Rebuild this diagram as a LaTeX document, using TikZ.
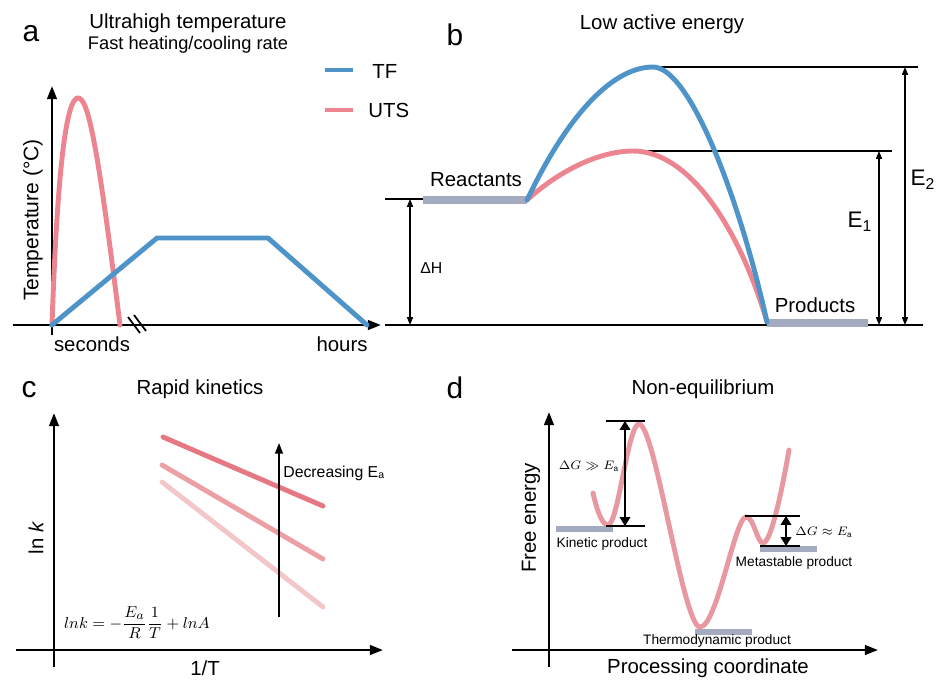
\documentclass[tikz,border=0pt]{standalone}
\usepackage{fontspec}
\setmainfont{Liberation Sans}
\usetikzlibrary{arrows.meta}

\definecolor{tfblue}{RGB}{79,148,201}
\definecolor{utspink}{RGB}{236,133,144}
\definecolor{barcol}{RGB}{164,171,192}
\definecolor{lineA}{RGB}{229,120,130}
\definecolor{lineB}{RGB}{236,160,166}
\definecolor{lineC}{RGB}{243,198,202}
\definecolor{landcol}{RGB}{232,152,160}

\tikzset{
  axisline/.style={line width=1.4pt,-{Triangle[length=7.5pt,width=5.5pt]}},
  dimline/.style={line width=0.6pt,{Triangle[length=4.5pt,width=3.5pt]}-{Triangle[length=4.5pt,width=3.5pt]}},
  bigdim/.style={line width=0.8pt,{Triangle[length=5pt,width=6pt]}-{Triangle[length=5pt,width=6pt]}},
  refline/.style={line width=0.7pt},
  curve/.style={line width=2.8pt,line cap=round},
  levelbar/.style={draw=barcol,line width=5pt},
  smallbar/.style={draw=barcol,line width=3pt},
  letter/.style={inner sep=0,font=\fontsize{17}{19}\selectfont},
  title/.style={inner sep=0,font=\fontsize{11.6}{13}\selectfont},
  lbl/.style={inner sep=0,font=\fontsize{11.6}{13}\selectfont},
  small/.style={inner sep=0,font=\fontsize{7.8}{9}\selectfont},
  gap/.style={inner sep=0,font=\fontsize{6.6}{8}\selectfont},
}

\begin{document}
\begin{tikzpicture}[x=0.02cm,y=-0.02cm]
\useasboundingbox (0,0) rectangle (946,687);

% ---- a: heating profile
\node[letter] (letA) at (31,34) {a};
\node[title] (titA) at (188,23) {Ultrahigh temperature};
\node[inner sep=0,font=\fontsize{10.4}{12}\selectfont] (subA) at (188,45) {Fast heating/cooling rate};
\coordinate (aO) at (52,325);
\draw[axisline] (52,335) -- (52,86);
\draw[axisline] (13,325) -- (381,325);
\draw[line width=1pt] (128,317) -- (140,333) (134,315) -- (146,331);
\draw[curve,utspink] (aO) .. controls (58,150) and (68,98) .. (78,98)
  .. controls (88,98) and (97,140) .. (120,325);
\draw[curve,tfblue,line join=round] (aO) -- (157,238) -- (268,238) -- (367,325);
\draw[curve,tfblue,line cap=butt] (325,70) -- (353,70);
\draw[curve,utspink,line cap=butt] (325,110) -- (353,110);
\node[lbl,anchor=west] (legTF) at (372,71) {TF};
\node[lbl,anchor=west] (legUTS) at (368,110) {UTS};
\node[lbl] (secs) at (92,344) {seconds};
\node[lbl] (hrs) at (342,344) {hours};
\node[inner sep=0,rotate=90,font=\fontsize{12}{14}\selectfont] (tempA) at (33,220) {Temperature (°C)};

% ---- b: energy barrier
\node[letter] (letB) at (455,35) {b};
\node[title] (titB) at (662,24) {Low active energy};
\coordinate (react) at (527,200);
\coordinate (prod) at (767,322);
\draw[refline] (385,325) -- (923,325);
\draw[refline] (385,199) -- (423,199);
\draw[levelbar] (423,200) -- (react);
\draw[levelbar] (767,323) -- (868,323);
\draw[refline] (653,67) -- (918,67);
\draw[refline] (633,151) -- (892,151);
\draw[dimline] (410,199) -- (410,325);
\draw[dimline] (879,151) -- (879,325);
\draw[dimline] (905,67) -- (905,325);
\draw[curve,utspink] (react) .. controls (560,170) and (600,151) .. (633,151)
  .. controls (690,151) and (740,230) .. (prod);
\draw[curve,tfblue] (react) .. controls (570,110) and (615,67) .. (653,67)
  .. controls (690,67) and (740,200) .. (prod);
\node[lbl] (reacL) at (476,180) {Reactants};
\node[lbl] (prodL) at (815,305) {Products};
\node[inner sep=0,anchor=west,font=\fontsize{9}{10}\selectfont] (dH) at (420,268) {ΔH};
\node[inner sep=0,font=\fontsize{12.8}{14}\selectfont] (eOne) at (860,222) {E\textsubscript{1}};
\node[inner sep=0,font=\fontsize{12.8}{14}\selectfont] (eTwo) at (923,180) {E\textsubscript{2}};

% ---- c: Arrhenius plot
\node[letter] (letC) at (29,390) {c};
\node[title] (titC) at (200,389) {Rapid kinetics};
\draw[axisline] (54,667) -- (54,413);
\draw[axisline] (16,650) -- (383,650);
\draw[curve,lineA] (163,437) -- (323,506);
\draw[curve,lineB] (162,465) -- (323,559);
\draw[curve,lineC] (162,482) -- (323,607);
\draw[line width=0.8pt,-{Triangle[length=6pt,width=4.5pt]}] (279,617) -- (279,443);
\node[inner sep=0,anchor=west,font=\fontsize{9}{10}\selectfont] (decE) at (283,473) {Decreasing E\textsubscript{a}};
\node[inner sep=0,font=\fontsize{9.5}{11}\selectfont] (arrh) at (137,623)
  {$lnk=-\displaystyle\frac{E_a}{R}\frac{1}{T}+lnA$};
\node[lbl,rotate=90] (lnk) at (36,538) {ln \textit{k}};
\node[lbl] (invT) at (205,668) {1/T};

% ---- d: free energy landscape
\node[letter] (letD) at (455,388) {d};
\node[title] (titD) at (703,389) {Non-equilibrium};
\draw[axisline] (549,667) -- (549,412);
\draw[axisline] (512,650) -- (878,650);
\node[lbl,rotate=90] (freeE) at (531,518) {Free energy};
\node[lbl] (procC) at (708,668) {Processing coordinate};
\draw[smallbar] (556,529) -- (613,529);
\draw[smallbar] (695,632) -- (752,632);
\draw[smallbar] (760,549) -- (817,549);
\draw[curve,landcol] (593,493) .. controls (598,515) and (603,525) .. (608,525)
  .. controls (618,525) and (628,424) .. (639,424)
  .. controls (655,424) and (683,627) .. (700,627)
  .. controls (717,627) and (735,517) .. (746,517)
  .. controls (754,517) and (757,543) .. (763,543)
  .. controls (771,543) and (782,490) .. (789,450);
\draw[refline] (606,421) -- (645,421);
\draw[refline] (606,526) -- (645,526);
\draw[bigdim] (625,421) -- (625,526);
\draw[refline] (745,516) -- (800,516);
\draw[refline] (760,546) -- (800,546);
\draw[bigdim] (786,516) -- (786,546);
\node[gap] (gKin) at (589,466) {$\Delta G \gg E_{\mathrm{a}}$};
\node[gap] (gMeta) at (824,532) {$\Delta G \approx E_{\mathrm{a}}$};
\node[small] (kinP) at (602,544) {Kinetic product};
\node[small] (thermP) at (717,641) {Thermodynamic product};
\node[small] (metaP) at (794,563) {Metastable product};
\end{tikzpicture}
\end{document}
